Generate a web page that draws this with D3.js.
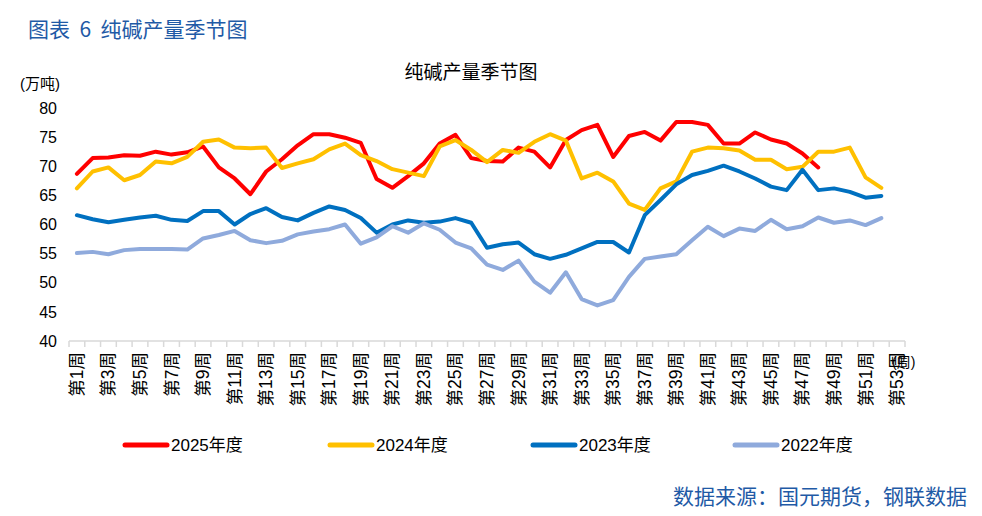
<!DOCTYPE html>
<html>
<head>
<meta charset="utf-8">
<script src="https://cdn.jsdelivr.net/npm/d3@7"></script>
<style>
  body { margin: 0; background: #fff; }
  svg { display: block; font-family: "Liberation Sans", "Noto Sans CJK SC", sans-serif; }
</style>
</head>
<body>
<div id="chart"></div>
<script>
// Weeks on the x axis (1..53), labels shown on odd weeks
const weeks = d3.range(1, 54);
const yTicks = [40, 45, 50, 55, 60, 65, 70, 75, 80];

// Weekly soda ash output (万吨)
const s2025 = [68.7, 71.4, 71.5, 71.9, 71.8, 72.5, 72.0, 72.4, 73.4, 69.8,
  67.9, 65.2, 69.1, 71.2, 73.6, 75.5, 75.5, 74.9, 74.0, 67.8,
  66.3, 68.3, 70.5, 73.9, 75.4, 71.4, 70.9, 70.8, 73.2, 72.5,
  69.8, 74.5, 76.2, 77.1, 71.6, 75.2, 75.9, 74.4, 77.6, 77.6,
  77.1, 73.9, 73.9, 75.8, 74.6, 73.9, 72.2, 69.8];
const s2024 = [66.2, 69.1, 69.8, 67.6, 68.5, 70.8, 70.5, 71.6, 74.2, 74.6,
  73.2, 73.1, 73.2, 69.7, 70.5, 71.2, 72.9, 73.9, 71.9, 70.9,
  69.5, 68.9, 68.3, 73.4, 74.5, 72.8, 70.7, 72.8, 72.3, 74.2,
  75.5, 74.4, 67.9, 68.9, 67.4, 63.6, 62.5, 66.2, 67.4, 72.5,
  73.2, 73.1, 72.7, 71.1, 71.1, 69.5, 69.9, 72.5, 72.5, 73.2, 68.1, 66.3];
const s2023 = [61.6, 60.9, 60.4, 60.8, 61.2, 61.5, 60.8, 60.6, 62.3, 62.3,
  60.0, 61.8, 62.8, 61.3, 60.7, 62.0, 63.1, 62.5, 61.1, 58.6,
  60.0, 60.7, 60.3, 60.5, 61.1, 60.3, 56.0, 56.6, 56.9, 54.9,
  54.1, 54.8, 55.9, 57.0, 57.0, 55.2, 61.6, 64.2, 66.9, 68.5,
  69.2, 70.1, 69.1, 67.9, 66.5, 65.9, 69.4, 65.9, 66.2, 65.6, 64.6, 64.9];
const s2022 = [55.1, 55.3, 54.9, 55.6, 55.8, 55.8, 55.8, 55.7, 57.6, 58.2,
  58.9, 57.3, 56.8, 57.2, 58.3, 58.8, 59.2, 60.0, 56.7, 57.8,
  59.7, 58.6, 60.2, 59.1, 56.9, 55.9, 53.1, 52.2, 53.8, 50.2,
  48.3, 51.8, 47.2, 46.1, 47.0, 51.0, 54.1, 54.5, 54.9, 57.3,
  59.6, 58.0, 59.3, 58.9, 60.8, 59.2, 59.7, 61.2, 60.3, 60.7, 59.9, 61.1];

const seriesNames = ["2025年度", "2024年度", "2023年度", "2022年度"];
const seriesColors = ["#ff0000", "#ffc000", "#0070c0", "#8faadc"];
const series = [s2025, s2024, s2023, s2022];

const W = 982, H = 516;
const plot = { left: 69, right: 905, top: 108, bottom: 341 };

const svg = d3.select("#chart").append("svg")
  .attr("width", W).attr("height", H);

svg.append("rect").attr("width", W).attr("height", H).attr("fill", "#fff");

// Header and title
svg.append("text")
  .attr("x", 28).attr("y", 37)
  .attr("fill", "#1f5aa6")
  .attr("font-size", 21)
  .attr("font-family", "Noto Sans CJK SC")
  .style("white-space", "pre")
  .text("图表  6  纯碱产量季节图");

svg.append("text")
  .attr("x", 471).attr("y", 79)
  .attr("text-anchor", "middle")
  .attr("font-size", 19)
  .attr("font-family", "Noto Sans CJK SC")
  .attr("fill", "#000")
  .text("纯碱产量季节图");

svg.append("text")
  .attr("x", 20).attr("y", 89)
  .attr("font-size", 15)
  .attr("fill", "#000")
  .text("(万吨)");

// Scales
const x = d3.scaleBand().domain(weeks).range([plot.left, plot.right]).padding(0);
const y = d3.scaleLinear().domain([40, 80]).range([plot.bottom, plot.top]);
const cx = d => x(d) + x.bandwidth() / 2;

// Y axis (labels only)
const yAxis = svg.append("g")
  .attr("transform", `translate(${plot.left - 4},0)`)
  .call(d3.axisLeft(y).tickValues(yTicks).tickSize(0).tickPadding(8));
yAxis.select(".domain").remove();
yAxis.selectAll("text")
  .attr("font-size", 16)
  .attr("font-family", "Liberation Sans")
  .attr("fill", "#000");

// X axis: line with tick marks at band edges
const xAxis = svg.append("g").attr("transform", `translate(0,${plot.bottom})`);
xAxis.append("line")
  .attr("x1", plot.left).attr("x2", plot.right)
  .attr("stroke", "#d9d9d9").attr("stroke-width", 1.5);
xAxis.selectAll("line.tick")
  .data(weeks.concat([54]))
  .join("line")
  .attr("class", "tick")
  .attr("x1", d => d === 54 ? plot.right : x(d))
  .attr("x2", d => d === 54 ? plot.right : x(d))
  .attr("y1", 0).attr("y2", 6)
  .attr("stroke", "#d9d9d9").attr("stroke-width", 1.5);

xAxis.selectAll("text.lab")
  .data(weeks.filter(d => d % 2 === 1))
  .join("text")
  .attr("class", "lab")
  .attr("transform", d => `translate(${cx(d)},11) rotate(-90)`)
  .attr("text-anchor", "end")
  .attr("dominant-baseline", "central")
  .attr("font-size", 17.5)
  .attr("fill", "#000")
  .text(d => `第${d}周`);

svg.append("text")
  .attr("x", 892).attr("y", 367)
  .attr("font-size", 14)
  .attr("fill", "#000")
  .text("(周)");

// Lines
const line = d3.line()
  .x((d, i) => cx(weeks[i]))
  .y(d => y(d));

series.forEach((s, k) => {
  svg.append("path")
    .datum(s)
    .attr("d", line)
    .attr("fill", "none")
    .attr("stroke", seriesColors[k])
    .attr("stroke-width", 4)
    .attr("stroke-linejoin", "round")
    .attr("stroke-linecap", "round");
});

// Legend
const legendX = [125, 330, 533, 735];
const legend = svg.append("g").attr("transform", "translate(0,445)");
seriesNames.forEach((name, k) => {
  legend.append("line")
    .attr("x1", legendX[k]).attr("x2", legendX[k] + 42)
    .attr("stroke", seriesColors[k])
    .attr("stroke-width", 5)
    .attr("stroke-linecap", "round");
  legend.append("text")
    .attr("x", legendX[k] + 46).attr("y", 0)
    .attr("dominant-baseline", "central")
    .attr("font-size", 17)
    .attr("fill", "#000")
    .text(name);
});

// Source
svg.append("text")
  .attr("x", 967).attr("y", 504)
  .attr("text-anchor", "end")
  .attr("font-size", 21)
  .attr("font-family", "Noto Sans CJK SC")
  .attr("fill", "#1f5aa6")
  .text("数据来源：国元期货，钢联数据");
</script>
</body>
</html>
